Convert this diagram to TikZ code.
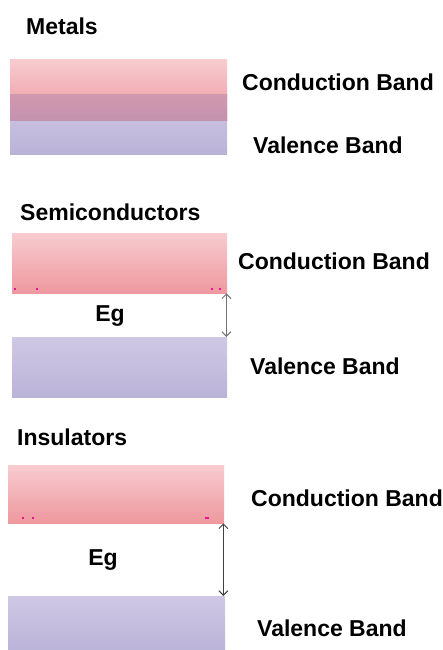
\documentclass[tikz,border=0pt]{standalone}
\usepackage{fontspec}
\setmainfont{Liberation Sans}
\usetikzlibrary{arrows.meta}

\definecolor{cbtop}{RGB}{247,204,208}
\definecolor{cbbot}{RGB}{238,152,158}
\definecolor{vbtop}{RGB}{207,200,228}
\definecolor{vbbot}{RGB}{186,179,216}
\definecolor{ovtop}{RGB}{208,152,172}
\definecolor{ovbot}{RGB}{196,146,176}
\definecolor{speck}{RGB}{232,20,150}

\tikzset{
  band/.style={rectangle, inner sep=0pt, anchor=north west},
  cband/.style={band, top color=cbtop, bottom color=cbbot},
  vband/.style={band, top color=vbtop, bottom color=vbbot},
  oband/.style={band, top color=ovtop, bottom color=ovbot},
  lbl/.style={inner sep=0pt, anchor=west, font=\fontsize{23}{27}\selectfont\bfseries,
              text height=16.5pt, text depth=0pt},
  eg/.style={lbl, anchor=center},
  gap/.style={{Straight Barb[length=4.5pt,width=9pt]}-{Straight Barb[length=4.5pt,width=9pt]}, line width=1pt},
  speckmark/.style={fill=speck, inner sep=0pt, minimum width=2.5pt, minimum height=1.5pt}
}

\begin{document}
\begin{tikzpicture}[x=1pt,y=-1pt]
\useasboundingbox[fill=white] (0,0) rectangle (443,650);

% ---- Metals: overlapping bands ----
\node[lbl] (tm) at (26,26) {Metals};
\node[cband, minimum width=217pt, minimum height=61pt] (cb1) at (10,59) {};
\node[vband, minimum width=217pt, minimum height=60pt] (vb1) at (10,94) {};
\node[oband, minimum width=217pt, minimum height=26pt] (ov1) at (10,94) {};
\node[lbl] (cl1) at (242,82) {Conduction Band};
\node[lbl] (vl1) at (253,145) {Valence Band};

% ---- Semiconductors: small gap ----
\node[lbl] (ts) at (20,212) {Semiconductors};
\node[cband, minimum width=215pt, minimum height=60pt] (cb2) at (12,233) {};
\node[vband, minimum width=215pt, minimum height=60pt] (vb2) at (12,337) {};
\node[lbl] (cl2) at (238,261) {Conduction Band};
\node[lbl] (vl2) at (250,366) {Valence Band};
\node[eg] (eg2) at (110,313) {Eg};
\draw[gap, draw=black!55] ([xshift=-1pt]cb2.south east) -- ([xshift=-1pt]vb2.north east);
\node[speckmark] (s21) at (15,289) {};
\node[speckmark] (s22) at (37,289) {};
\node[speckmark] (s23) at (212,289) {};
\node[speckmark] (s24) at (220,289) {};

% ---- Insulators: wide gap ----
\node[lbl] (ti) at (17,437) {Insulators};
\node[cband, minimum width=216pt, minimum height=58pt] (cb3) at (8,465) {};
\node[vband, minimum width=217pt, minimum height=56pt] (vb3) at (8,596) {};
\node[lbl] (cl3) at (251,498) {Conduction Band};
\node[lbl] (vl3) at (257,628) {Valence Band};
\node[eg] (eg3) at (103,557) {Eg};
\draw[gap, draw=black!75] ([xshift=-1pt]cb3.south east) -- ([xshift=-2pt]vb3.north east);
\node[speckmark] (s31) at (23,518) {};
\node[speckmark] (s32) at (33,518) {};
\node[speckmark, minimum width=4pt] (s33) at (207,518) {};
\end{tikzpicture}
\end{document}
